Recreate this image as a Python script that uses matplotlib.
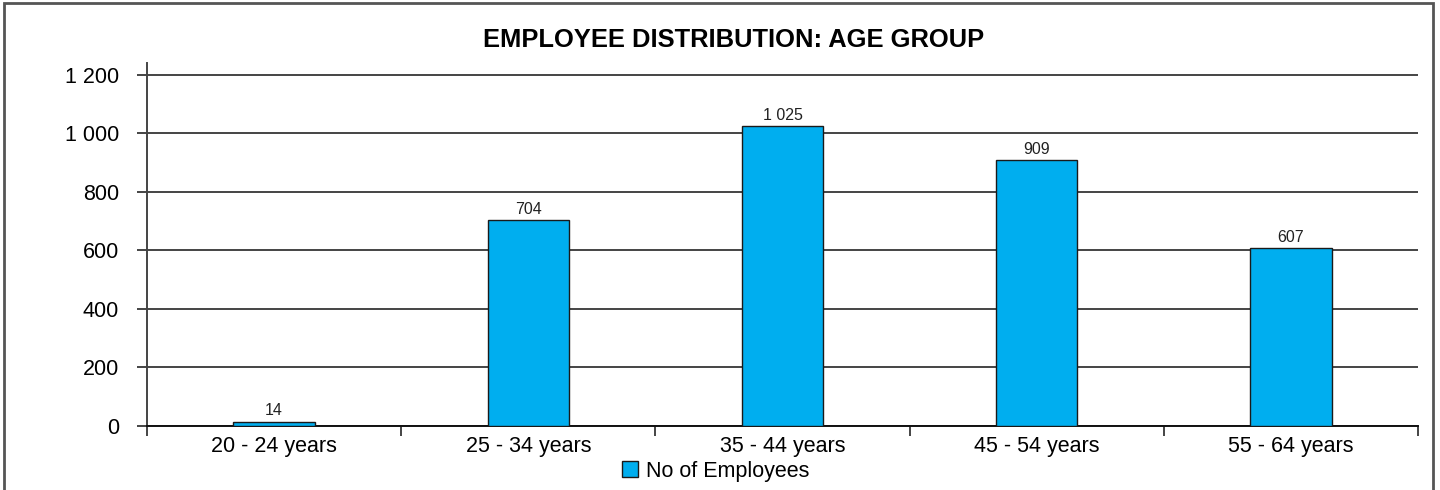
import numpy as np
import matplotlib.pyplot as plt
from matplotlib.patches import Rectangle
from matplotlib.ticker import FuncFormatter

plt.rcParams['font.family'] = ['Liberation Sans', 'DejaVu Sans']

age_groups = ['20 - 24 years', '25 - 34 years', '35 - 44 years', '45 - 54 years', '55 - 64 years']
employees = [14, 704, 1025, 909, 607]
y_ticks = [0, 200, 400, 600, 800, 1000, 1200]


def spaced(v, pos=None):
    return f'{int(v):,}'.replace(',', ' ')


fig = plt.figure(figsize=(14.4, 4.9), dpi=100)
ax = fig.add_axes([147 / 1440, 1 - 426 / 490, (1418 - 147) / 1440, (426 - 63) / 490])

x = np.arange(len(age_groups))
bars = ax.bar(x, employees, width=0.32, color='#00AEEF', edgecolor='#1a1a1a',
              linewidth=1.0, zorder=3, label='No of Employees')

for b, v in zip(bars, employees):
    ax.text(b.get_x() + b.get_width() / 2, v + 12, spaced(v),
            ha='center', va='bottom', fontsize=11.5, color='#222222')

ax.set_xlim(-0.5, len(age_groups) - 0.5)
ax.set_ylim(0, 1241)
ax.set_yticks(y_ticks)
ax.yaxis.set_major_formatter(FuncFormatter(spaced))
ax.grid(axis='y', color='#444444', linewidth=1.4, zorder=1)
ax.set_axisbelow(True)

# category labels at centres, tick marks on the boundaries
ax.set_xticks(x)
ax.set_xticklabels(age_groups)
ax.set_xticks(np.arange(-0.5, len(age_groups)), minor=True)
ax.tick_params(axis='x', which='major', length=0, pad=7, labelsize=15.5)
ax.tick_params(axis='x', which='minor', length=7, width=1.4, color='#444444', direction='out')
ax.tick_params(axis='y', length=7, width=1.4, color='#444444', pad=13, labelsize=15.5)

for s in ['top', 'right']:
    ax.spines[s].set_visible(False)
ax.spines['left'].set_color('#444444')
ax.spines['left'].set_linewidth(1.4)
ax.spines['bottom'].set_color('#111111')
ax.spines['bottom'].set_linewidth(1.4)

fig.text(734 / 1440, 1 - 40 / 490, 'EMPLOYEE DISTRIBUTION: AGE GROUP',
         ha='center', va='center', fontsize=18.4, fontweight='bold')

fig.legend(handles=[bars], labels=['No of Employees'], loc='center',
           bbox_to_anchor=(716 / 1440, 1 - 471 / 490), frameon=False,
           fontsize=15.5, handlelength=0.7, handleheight=0.7, handletextpad=0.4)

# outer chart frame
fig.add_artist(Rectangle((4 / 1440, -0.05), 1429 / 1440, 1.05 - 3 / 490,
                         transform=fig.transFigure, fill=False,
                         edgecolor='#555555', linewidth=2))

fig.savefig('out.png', dpi=100)
